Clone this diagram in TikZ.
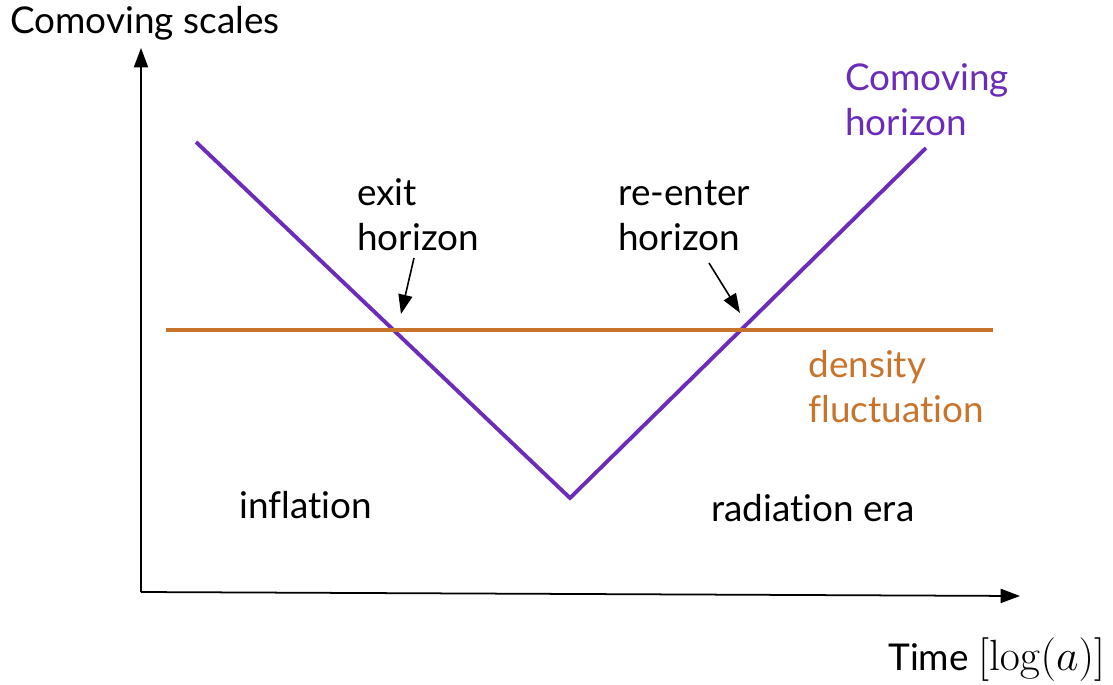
\documentclass[tikz,border=0pt]{standalone}
\usepackage[no-math]{fontspec}
\setmainfont{Lato}[Ligatures={NoCommon,NoContextual}]
\usetikzlibrary{arrows.meta,positioning}
\definecolor{hzpurple}{RGB}{108,44,186}
\definecolor{florange}{RGB}{200,116,44}

\begin{document}
\begin{tikzpicture}[
    x=0.02cm, y=-0.02cm,
    axis/.style={line width=1pt, -{Triangle[length=11pt,width=8pt]}},
    pointer/.style={line width=0.9pt, -{Triangle[length=11pt,width=8pt]}},
    curve/.style={line width=2.2pt},
    lbl/.style={inner sep=0pt, anchor=base west, align=left, font=\fontsize{21}{25.5}\selectfont}
]
    \useasboundingbox (0,0) rectangle (1113,684);

    % Axes
    \coordinate (origin) at (141,592);
    \coordinate (ytip) at (141,48);
    \coordinate (xtip) at (1020,596);
    \draw[axis] (origin) -- (ytip);
    \draw[axis] (origin) -- (xtip);

    % Comoving horizon (V shape)
    \coordinate (hzstart) at (196,142);
    \coordinate (hzmin) at (570,498);
    \coordinate (hzend) at (926,148);
    \draw[curve, hzpurple] (hzstart) -- (hzmin) -- (hzend);

    % Density fluctuation scale
    \coordinate (flstart) at (166,330);
    \coordinate (flend) at (993,330);
    \draw[curve, florange] (flstart) -- (flend);

    % Labels
    \node[lbl] (ylbl) at (10,33) {Comoving scales};
    \node[lbl] (xlbl) at (888,670) {Time {\fontsize{24.5}{29}\selectfont$[\log(a)]$}};
    \node[lbl, text=hzpurple] (hzlbl) at (845,135) {Comoving\\horizon};
    \node[lbl, text=florange] (fllbl) at (808,422) {density\\fluctuation};
    \node[lbl] (exitlbl) at (357,250) {exit\\horizon};
    \node[lbl] (reenterlbl) at (618,250) {re-enter\\horizon};
    \node[lbl] (inflbl) at (239,518) {inflation};
    \node[lbl] (radlbl) at (711,521) {radiation era};

    % Horizon crossing pointers
    \coordinate (exitfrom) at (414,258);
    \coordinate (exitpt) at (401,314);
    \coordinate (reenterfrom) at (709,263);
    \coordinate (reenterpt) at (740,313);
    \draw[pointer] (exitfrom) -- (exitpt);
    \draw[pointer] (reenterfrom) -- (reenterpt);
\end{tikzpicture}
\end{document}
